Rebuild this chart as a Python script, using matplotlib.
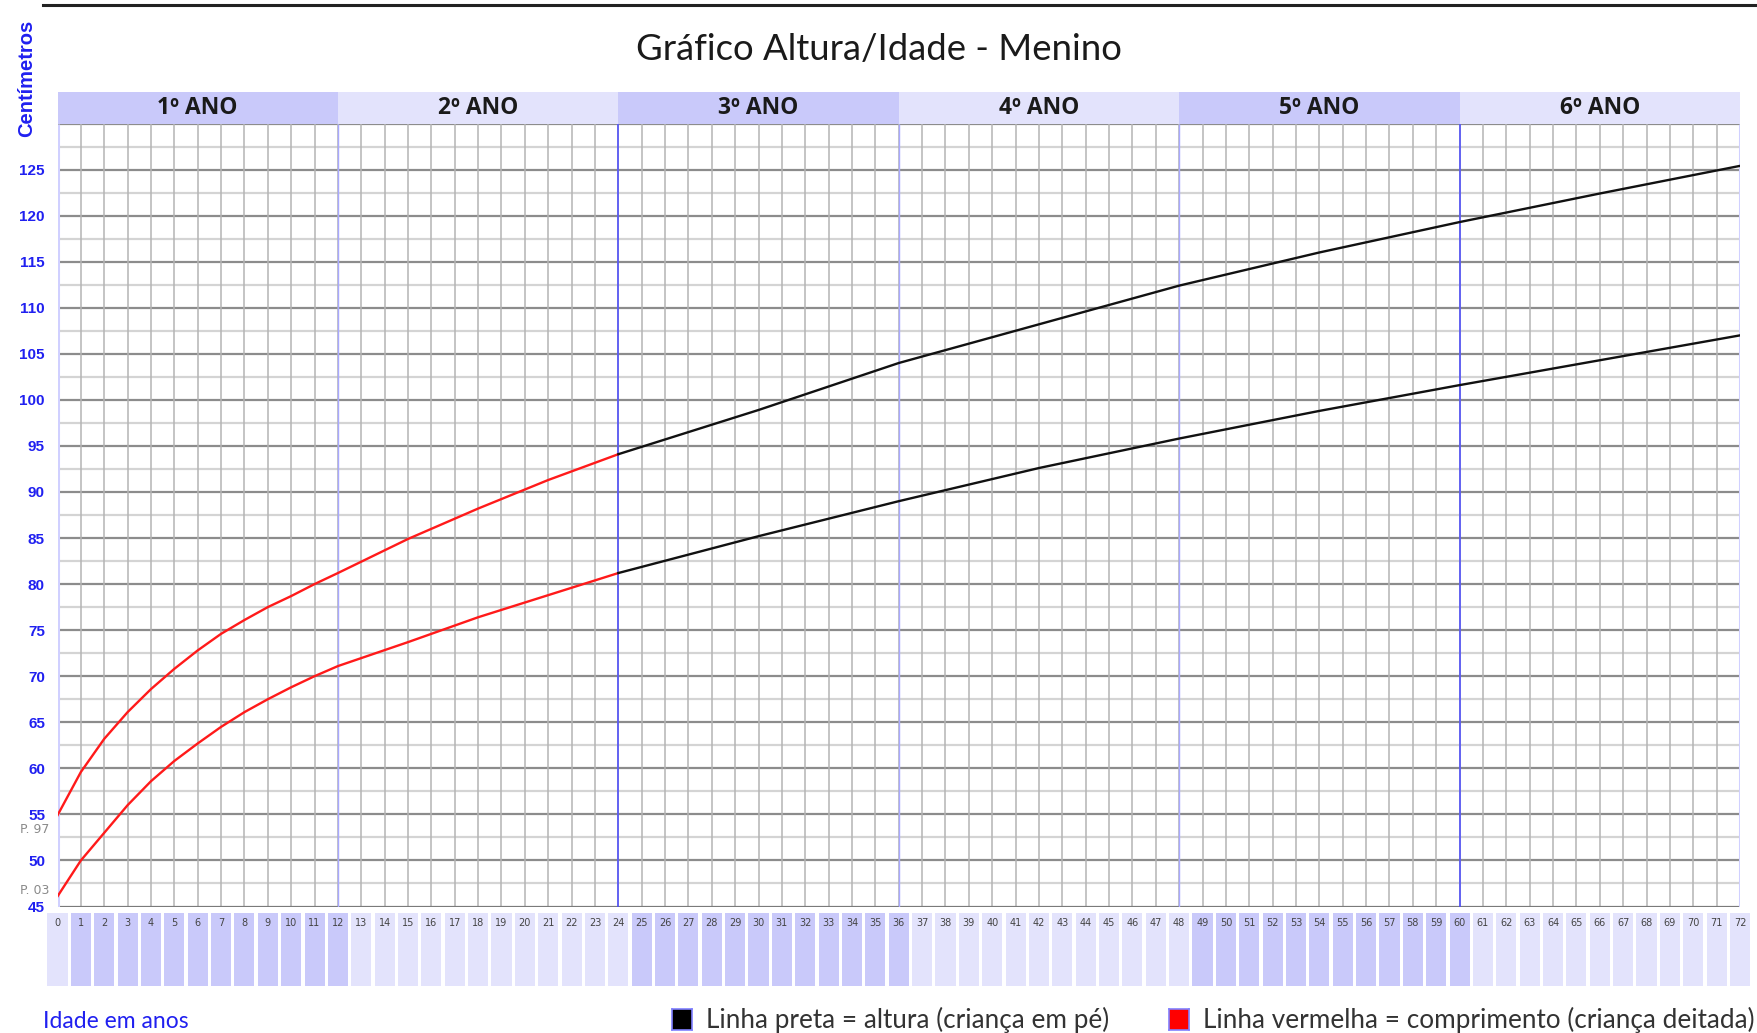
import matplotlib
matplotlib.use("Agg")
import matplotlib.pyplot as plt
from matplotlib.lines import Line2D
import numpy as np

# --- data (months -> cm) ---
RED_MONTHS = [0, 1, 2, 3, 4, 5, 6, 7, 8, 9, 10, 11, 12, 15, 18, 21, 24]
RED_P97 = [54.9, 59.6, 63.2, 66.1, 68.6, 70.8, 72.8, 74.6, 76.1, 77.5, 78.7, 80.0, 81.2,
           84.9, 88.2, 91.3, 94.1]
RED_P03 = [46.1, 50.0, 53.0, 56.0, 58.6, 60.8, 62.7, 64.5, 66.1, 67.5, 68.8, 70.0, 71.1,
           73.7, 76.4, 78.8, 81.2]

BLACK_MONTHS = [24, 30, 36, 42, 48, 54, 60, 66, 72]
BLACK_P97 = [94.1, 98.9, 104.0, 108.2, 112.4, 116.0, 119.3, 122.4, 125.4]
BLACK_P03 = [81.2, 85.2, 89.0, 92.6, 95.8, 98.8, 101.6, 104.3, 107.0]

YEAR_LABELS = ["1º ANO", "2º ANO", "3º ANO", "4º ANO", "5º ANO", "6º ANO"]
Y_TICKS = list(range(45, 130, 5))
MONTH_TICKS = list(range(0, 73))

DARK_LAV = "#c9c9fa"
LIGHT_LAV = "#e3e3fc"
BLUE_TXT = "#2020f0"

W_PX, H_PX = 1757, 1033
fig = plt.figure(figsize=(W_PX / 100, H_PX / 100), dpi=100)


def fx(px):
    return px / W_PX


def fy(px):
    return 1 - px / H_PX


left, right = 57.5, 1740
top, bottom = 123.5, 906.5
ax = fig.add_axes([fx(left), fy(bottom), fx(right - left), fy(top) - fy(bottom)])
ax.set_xlim(0, 72)
ax.set_ylim(45, 130)
for s in ax.spines.values():
    s.set_visible(False)

# grid: minor every 2.5 cm, major every 5 cm, one vertical per month
ax.hlines(np.arange(47.5, 130, 5), 0, 72, color="#d4d4d4", lw=1.6, zorder=1)
ax.hlines(Y_TICKS[1:] + [130], 0, 72, color="#8c8c8c", lw=1.6, zorder=1)
ax.vlines(MONTH_TICKS[1:-1], 45, 130, color="#b4b4b4", lw=1.1, zorder=1)
ax.hlines(45, 0, 72, color="#7a7a7a", lw=1.6, zorder=2)
# year separators
ax.vlines([12, 36, 48], 45, 130, color="#a8a8ff", lw=1.0, zorder=2)
ax.vlines([24, 60], 45, 130, color="#4848ff", lw=1.1, zorder=2)
ax.vlines([0, 72], 45, 130, color="#d0d0ff", lw=2.2, zorder=2)

ax.plot(RED_MONTHS, RED_P97, color="#ff1a1a", lw=1.7, zorder=4)
ax.plot(RED_MONTHS, RED_P03, color="#ff1a1a", lw=1.7, zorder=4)
ax.plot(BLACK_MONTHS, BLACK_P97, color="#111111", lw=1.7, zorder=4)
ax.plot(BLACK_MONTHS, BLACK_P03, color="#111111", lw=1.7, zorder=4)

ax.set_xticks([])
ax.set_yticks(Y_TICKS)
ax.tick_params(axis="y", length=0, pad=9)
for lbl in ax.get_yticklabels():
    lbl.set_color(BLUE_TXT)
    lbl.set_fontweight("bold")
    lbl.set_fontsize(11)
    lbl.set_fontfamily("Liberation Sans")

ax.text(-0.35, 53.4, "P. 97", color="#8a8a8a", fontsize=9, ha="right", va="center",
        clip_on=False)
ax.text(-0.35, 46.7, "P. 03", color="#8a8a8a", fontsize=9, ha="right", va="center",
        clip_on=False)

# header band with years
hax = fig.add_axes([fx(left), fy(top), fx(right - left), fy(91.5) - fy(top)])
hax.set_xlim(0, 72)
hax.set_ylim(0, 1)
hax.axis("off")
for i, lab in enumerate(YEAR_LABELS):
    hax.bar(i * 12, 1, width=12, align="edge",
            color=DARK_LAV if i % 2 == 0 else LIGHT_LAV, lw=0)
    hax.text(i * 12 + 6, 0.47, lab, ha="center", va="center", fontsize=16.5,
             fontweight="bold", color="#1a1a1a", family="Open Sans")

# month cells under the plot
cax = fig.add_axes([fx(left), fy(986), fx(right - left), fy(913) - fy(986)])
cax.set_xlim(0, 72)
cax.set_ylim(0, 1)
cax.axis("off")
for m in MONTH_TICKS:
    shade = DARK_LAV if (m - 1) // 12 % 2 == 0 and m > 0 else LIGHT_LAV
    cax.bar(m, 1, width=0.86, color=shade, lw=0, clip_on=False)
    cax.text(m, 0.86, str(m), ha="center", va="center", fontsize=7,
             color="#444444", clip_on=False)

fig.text(0.5, fy(50), "Gráfico Altura/Idade - Menino", ha="center", va="center",
         fontsize=26.3, color="#1a1a1a", family="Lato")
fig.text(fx(27), fy(78), "Centímetros", rotation=90, ha="center", va="center",
         fontsize=14.5, fontweight="bold", color=BLUE_TXT, family="Liberation Sans")
fig.text(fx(43), fy(1021), "Idade em anos", ha="left", va="center", fontsize=16.5,
         color=BLUE_TXT, family="Lato")

# legend at the bottom
for x0, col, txt in [(672, "#000000", "Linha preta = altura (criança em pé)"),
                     (1169, "#ff0000", "Linha vermelha = comprimento (criança deitada)")]:
    sq = fig.add_axes([fx(x0), fy(1030), fx(20), fy(1009) - fy(1030)])
    sq.set_xticks([])
    sq.set_yticks([])
    sq.set_facecolor(col)
    for s in sq.spines.values():
        s.set_color("#8080ff")
        s.set_linewidth(1.2)
    fig.text(fx(x0 + 34), fy(1020), txt, ha="left", va="center", fontsize=18.8,
             color="#333333", family="Lato")

fig.add_artist(Line2D([fx(43), 1.0], [fy(4.5), fy(4.5)], color="#222222", lw=2.2))

fig.savefig("out.png", dpi=100)
